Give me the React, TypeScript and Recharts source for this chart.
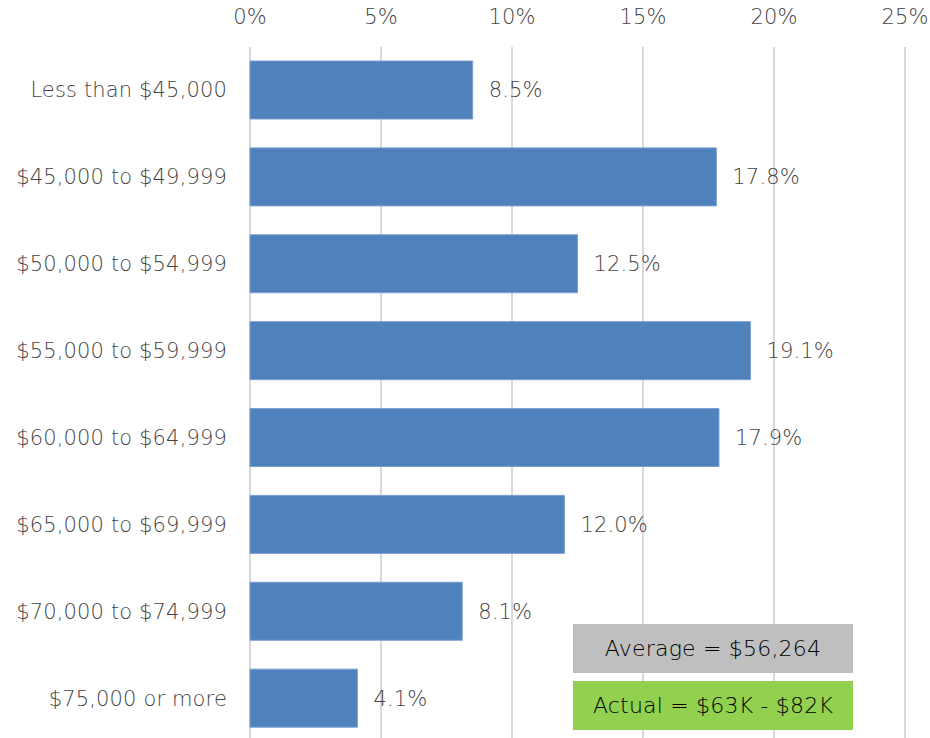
import React from "react";
import { BarChart, Bar, XAxis, YAxis, CartesianGrid, LabelList } from "recharts";

const categories = [
    "Less than $45,000",
    "$45,000 to $49,999",
    "$50,000 to $54,999",
    "$55,000 to $59,999",
    "$60,000 to $64,999",
    "$65,000 to $69,999",
    "$70,000 to $74,999",
    "$75,000 or more"
];

const shares = [8.5, 17.8, 12.5, 19.1, 17.9, 12.0, 8.1, 4.1];

const xTicks = [0, 5, 10, 15, 20, 25];

const notes = [
    { text: "Average = $56,264", color: "#bfbfbf" },
    { text: "Actual = $63K - $82K", color: "#92d050" }
];

const data = categories.map((c, i) => ({ range: c, share: shares[i] }));

const FONT = "'DejaVu Sans', sans-serif";
const GREY = "#444444";
const txt = { fontSize: 21, fill: GREY, fontFamily: FONT, fontWeight: 200, letterSpacing: 0.15 };

const TopTick = ({ x, payload }: any) => (
    <text x={x} y={24} textAnchor="middle" style={txt}>
        {payload.value}%
    </text>
);

const LeftTick = ({ x, y, payload }: any) => (
    <text x={x} y={y} dy={7} textAnchor="end" style={txt}>
        {payload.value}
    </text>
);

export default function App() {
    return (
        <div style={{ position: "fixed", left: 0, top: 0, width: 930, height: 738, overflow: "hidden", background: "#fff" }}>
            <BarChart
                width={930}
                height={745}
                data={data}
                layout="vertical"
                margin={{ top: 0, right: 25, left: 0, bottom: 3 }}
            >
                <CartesianGrid horizontal={false} stroke="#d9d9d9" strokeWidth={2} />
                <XAxis
                    type="number"
                    orientation="top"
                    domain={[0, 25]}
                    ticks={xTicks}
                    axisLine={false}
                    tickLine={false}
                    height={47}
                    tick={<TopTick />}
                />
                <YAxis
                    type="category"
                    dataKey="range"
                    width={250}
                    axisLine={false}
                    tickLine={false}
                    tickMargin={17}
                    tick={<LeftTick />}
                />
                <Bar dataKey="share" fill="#4f81bd" stroke="#7a9fd0" strokeWidth={1} barSize={58} isAnimationActive={false}>
                    <LabelList
                        dataKey="share"
                        position="right"
                        offset={16}
                        formatter={(v: any) => `${Number(v).toFixed(1)}%`}
                        style={txt}
                    />
                </Bar>
            </BarChart>
            {notes.map((n, i) => (
                <div
                    key={n.text}
                    style={{
                        position: "absolute",
                        left: 573,
                        top: 624 + i * 57,
                        width: 280,
                        height: 49,
                        background: n.color,
                        display: "flex",
                        alignItems: "center",
                        justifyContent: "center",
                        fontFamily: FONT,
                        fontWeight: 200,
                        fontSize: 22,
                        letterSpacing: 0.2,
                        color: "#000"
                    }}
                >
                    {n.text}
                </div>
            ))}
        </div>
    );
}
